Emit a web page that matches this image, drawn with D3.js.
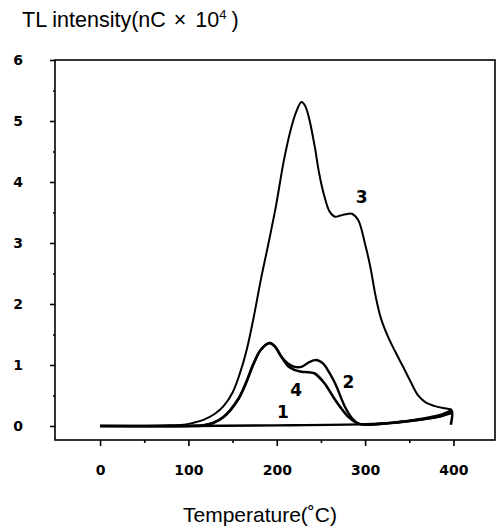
<!DOCTYPE html>
<html>
<head>
<meta charset="utf-8">
<script src="https://cdn.jsdelivr.net/npm/d3@7"></script>
<style>
  body { margin: 0; background: #fff; }
  svg { display: block; }
  text { fill: #000; }
</style>
</head>
<body>
<svg id="chart" width="497" height="528"></svg>
<script>
// Glow curves: [temperature in C, intensity in nC x 10^4].
var curve1 = [
  [0, 0], [100, 0], [200, 0.01], [300, 0.03], [330, 0.05], [350, 0.08],
  [370, 0.12], [385, 0.16], [398, 0.21]
];
var curve2 = [
  [0, 0], [100, 0], [117, 0.01], [128, 0.05], [140, 0.15], [156, 0.43],
  [165, 0.7], [174, 1.03], [182, 1.25], [192, 1.36], [198, 1.3], [205, 1.14],
  [213, 1.02], [220, 0.97], [228, 0.97], [236, 1.04], [243, 1.08], [249, 1.06],
  [254, 1.0], [260, 0.86], [266, 0.7], [277, 0.32], [285, 0.13], [292, 0.04],
  [300, 0.02], [320, 0.04], [356, 0.1], [387, 0.19], [398, 0.26]
];
var curve3 = [
  [0, 0], [50, 0], [80, 0.01], [95, 0.02], [105, 0.05], [117, 0.1],
  [130, 0.2], [140, 0.33], [150, 0.55], [158, 0.85], [166, 1.25], [174, 1.79],
  [182, 2.4], [190, 2.95], [199, 3.6], [208, 4.35], [216, 4.87], [222, 5.15],
  [228, 5.31], [232, 5.25], [236, 5.08], [243, 4.58], [248, 4.14], [254, 3.76],
  [260, 3.51], [266, 3.43], [272, 3.45], [278, 3.47], [285, 3.48], [292, 3.38],
  [300, 2.98], [306, 2.6], [312, 2.12], [318, 1.76], [326, 1.46], [334, 1.22],
  [343, 0.97], [351, 0.74], [360, 0.5], [368, 0.39], [378, 0.33], [390, 0.29],
  [398, 0.27]
];
var curve4 = [
  [0, 0], [100, 0], [117, 0.01], [128, 0.05], [140, 0.15], [156, 0.43],
  [165, 0.7], [174, 1.03], [182, 1.25], [192, 1.36], [198, 1.3], [205, 1.14],
  [213, 0.98], [220, 0.92], [228, 0.89], [236, 0.88], [243, 0.86], [254, 0.7],
  [266, 0.43], [281, 0.15], [292, 0.04], [300, 0.02], [330, 0.05], [360, 0.1],
  [390, 0.18], [398, 0.25], [397, 0.02]
];

// Curve number and where its label sits, in data units.
var curveLabels = [
  { name: '1', t: 207, v: 0.23 },
  { name: '2', t: 281, v: 0.72 },
  { name: '3', t: 296, v: 3.75 },
  { name: '4', t: 222, v: 0.59 }
];

var xTicks = [0, 100, 200, 300, 400];
var xMinorTicks = [50, 150, 250, 350];
var yTicks = [0, 1, 2, 3, 4, 5, 6];
var yMinorTicks = [0.5, 1.5, 2.5, 3.5, 4.5, 5.5];

var svg = d3.select('#chart');

var x = d3.scaleLinear().domain([-51, 447]).range([55, 495]);
var y = d3.scaleLinear().domain([-0.23, 6]).range([440, 60]);

// Frame round the plot.
svg.append('rect')
  .attr('x', x.range()[0])
  .attr('y', y.range()[1])
  .attr('width', x.range()[1] - x.range()[0])
  .attr('height', y.range()[0] - y.range()[1])
  .attr('fill', 'none')
  .attr('stroke', '#000')
  .attr('stroke-width', 1.6);

// Bottom axis: major ticks, minor ticks.
var xAxis = svg.append('g')
  .attr('transform', 'translate(0,' + y.range()[0] + ')')
  .call(d3.axisBottom(x).tickValues(xTicks).tickSize(6).tickSizeOuter(0).tickPadding(19));
var xMinor = svg.append('g')
  .attr('transform', 'translate(0,' + y.range()[0] + ')')
  .call(d3.axisBottom(x).tickValues(xMinorTicks).tickSize(3).tickSizeOuter(0).tickFormat(''));

// Left axis.
var yAxis = svg.append('g')
  .attr('transform', 'translate(' + x.range()[0] + ',0)')
  .call(d3.axisLeft(y).tickValues(yTicks).tickFormat(d3.format('d'))
    .tickSize(5).tickSizeOuter(0).tickPadding(27));
var yMinor = svg.append('g')
  .attr('transform', 'translate(' + x.range()[0] + ',0)')
  .call(d3.axisLeft(y).tickValues(yMinorTicks).tickSize(2).tickSizeOuter(0).tickFormat(''));

[xAxis, xMinor, yAxis, yMinor].forEach(function(g) {
  g.select('.domain').remove();
  g.selectAll('line').attr('stroke', '#000').attr('stroke-width', 1.6);
});

[xAxis, yAxis].forEach(function(g) {
  g.selectAll('text')
    .style('font-size', '14px')
    .style('font-weight', 'bold')
    .style('font-family', '"DejaVu Sans", sans-serif');
});
yAxis.selectAll('text').attr('text-anchor', 'end');

// The curves.
var line = d3.line()
  .x(function(d) { return x(d[0]); })
  .y(function(d) { return y(d[1]); })
  .curve(d3.curveCatmullRom.alpha(0.5));

var series = [
  { data: curve1, width: 2.4 },
  { data: curve4, width: 2.6 },
  { data: curve2, width: 2.4 },
  { data: curve3, width: 2.0 }
];

svg.append('g')
  .selectAll('path')
  .data(series)
  .join('path')
  .attr('d', function(s) { return line(s.data); })
  .attr('fill', 'none')
  .attr('stroke', '#000')
  .attr('stroke-width', function(s) { return s.width; })
  .attr('stroke-linejoin', 'round');

// Curve numbers.
svg.append('g')
  .selectAll('text')
  .data(curveLabels)
  .join('text')
  .attr('x', function(d) { return x(d.t); })
  .attr('y', function(d) { return y(d.v); })
  .attr('dy', '0.36em')
  .attr('text-anchor', 'middle')
  .style('font-size', '17px')
  .style('font-weight', 'bold')
  .style('font-family', '"DejaVu Sans", sans-serif')
  .text(function(d) { return d.name; });

// Axis titles.
var yTitle = svg.append('text')
  .attr('x', 22)
  .attr('y', 27)
  .style('font-family', '"Liberation Sans", Arial, sans-serif')
  .style('font-size', '21.5px');
yTitle.append('tspan').text('TL intensity(nC');
yTitle.append('tspan').attr('dx', 8).text('\u00d7');
yTitle.append('tspan').attr('dx', 9).text('10');
yTitle.append('tspan').style('font-size', '13px').attr('dy', -8).text('4');
yTitle.append('tspan').attr('dx', 5).attr('dy', 8).text(')');

svg.append('text')
  .attr('x', 260)
  .attr('y', 522)
  .attr('text-anchor', 'middle')
  .style('font-family', '"Liberation Sans", Arial, sans-serif')
  .style('font-size', '21px')
  .text('Temperature(\u02daC)');
</script>
</body>
</html>
